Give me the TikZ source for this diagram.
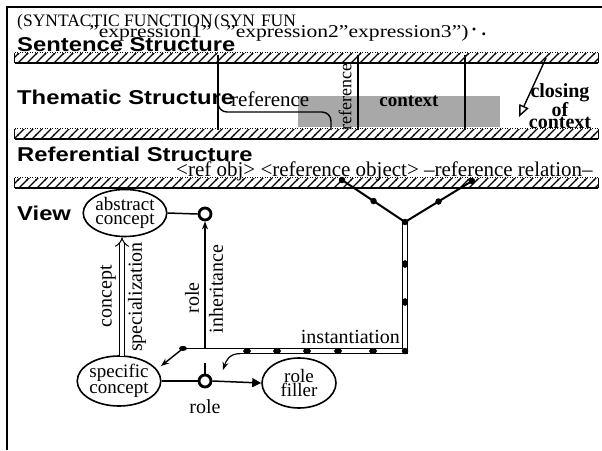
\documentclass[tikz,border=0pt]{standalone}
\usepackage{fontspec}
\usepackage{graphicx}
\setmainfont{Liberation Serif}
\newfontfamily\hsans{Liberation Sans}
\usetikzlibrary{arrows.meta,shapes.geometric,patterns,calc}
\pgfdeclarepatternformonly{hband}{\pgfqpoint{-1pt}{-1pt}}{\pgfqpoint{10pt}{10pt}}{\pgfqpoint{9pt}{9pt}}{%
  \pgfsetlinewidth{1.4pt}%
  \pgfpathmoveto{\pgfqpoint{-0.5pt}{-0.5pt}}%
  \pgfpathlineto{\pgfqpoint{9.5pt}{9.5pt}}%
  \pgfusepath{stroke}%
}
\newcommand{\widetxt}[1]{\scalebox{1.19}[1]{#1}}
\newcommand{\exptxt}[1]{\scalebox{1.2}[1]{#1}}
\begin{document}
\begin{tikzpicture}[x=1pt,y=-1pt,
  lbl/.style={font=\hsans\bfseries\fontsize{20}{22}\selectfont, anchor=base west, inner sep=0pt},
  ser/.style={font=\fontsize{20}{22}\selectfont, inner sep=0pt},
  top/.style={font=\fontsize{17.5}{20}\selectfont, inner sep=0pt},
  band/.style={pattern=hband, minimum width=583pt, minimum height=10pt, inner sep=0pt, draw=none},
  vline/.style={line width=1.4pt},
  blob/.style={ellipse, draw, line width=1.6pt, inner sep=0pt, align=center, fill=white, font=\fontsize{19}{14}\selectfont},
  ring/.style={circle, draw, line width=2.8pt, minimum size=12pt, inner sep=0pt, fill=white},
  bead/.style={ellipse, fill, minimum width=8pt, minimum height=5pt, inner sep=0pt},
  vbead/.style={ellipse, fill, minimum width=5pt, minimum height=8pt, inner sep=0pt},
  dbead/.style={circle, fill, minimum size=6.5pt, inner sep=0pt},
  rot/.style={ser, rotate=90},
]
\useasboundingbox (0,0) rectangle (602,450);
% frame
\draw[line width=1.5pt] (7,450) -- (7,7) -- (602,7);

% top row
\node[top, anchor=base west] (synA) at (17,26) {(SYNTACTIC FUNCTION};
\node[top, anchor=base west, font=\fontsize{18}{20}\selectfont] (ex1) at (89,37) {\exptxt{"expression1"}};
\node[top, anchor=base west] (synB) at (214,26) {(SYN\hspace{6pt}FUN};
\node[top, anchor=base west, font=\fontsize{18}{20}\selectfont] (ex23) at (226,37) {\exptxt{"expression2"expression3")}};
\node[top, anchor=base west, font=\bfseries\fontsize{18}{20}\selectfont] (dots) at (471,35) {· .};

% Sentence structure
\node[lbl] (ss) at (17,51) {\widetxt{Sentence Structure}};
\node[band] (b1) at (306.5,58) {};
\draw[dash pattern=on 1pt off 1.5pt, line width=1.2pt] (b1.north west) -- (b1.north east);
\draw[line width=1.6pt] (b1.south west) -- (b1.south east);
\draw[line width=1.2pt] (b1.north west) -- (b1.south west) (b1.north east) -- (b1.south east);

% Thematic structure
\node[draw=none, fill=black!34, minimum width=202pt, minimum height=31pt, inner sep=0pt] (shade) at (399,111) {};
\node[lbl] (ts) at (17,104) {\widetxt{Thematic Structure}};
\node[ser, anchor=base west, font=\fontsize{21}{22}\selectfont] (refh) at (231,106) {reference};
\node[ser, anchor=base, font=\bfseries\fontsize{19}{22}\selectfont] (ctx) at (409,106) {context};
\node[rot, font=\fontsize{18}{22}\selectfont] (refv) at (345,97) {reference};
\node[ser, align=center, font=\bfseries\fontsize{20}{11.5}\selectfont] (clo) at (560,106) {closing\\of\\context};
\coordinate (t1a) at (218,55);  \coordinate (t1b) at (218,130);
\coordinate (t2a) at (358,55);  \coordinate (t2b) at (358,130);
\coordinate (t3a) at (465,55);  \coordinate (t3b) at (465,130);
\coordinate (brs) at (218,95); \coordinate (brc) at (331,112); \coordinate (bre) at (331,130);
\draw[vline] (t1a) -- (t1b);
\draw[vline] (t2a) -- (t2b);
\draw[vline] (t3a) -- (t3b);
\draw[vline, rounded corners=9pt] (brs) |- (brc) -- (bre);
\coordinate (cs) at (546,58); \coordinate (ce) at (519,117);
\draw[line width=1.4pt, -{Triangle[open, length=12pt, width=10pt, line width=1.4pt]}] (cs) -- (ce);

% band 2
\node[band] (b2) at (306.5,134) {};
\draw[dash pattern=on 1pt off 1.5pt, line width=1.2pt] (b2.north west) -- (b2.north east);
\draw[line width=1.6pt] (b2.south west) -- (b2.south east);
\draw[line width=1.2pt] (b2.north west) -- (b2.south west) (b2.north east) -- (b2.south east);

% Referential structure
\node[lbl] (rs) at (17,161) {\widetxt{Referential Structure}};
\node[ser, anchor=base west, font=\fontsize{21}{22}\selectfont] (rr) at (176,176) {<ref obj> <reference object> --reference relation--};

% band 3
\node[band] (b3) at (306.5,183) {};
\draw[dash pattern=on 1pt off 1.5pt, line width=1.2pt] (b3.north west) -- (b3.north east);
\draw[line width=1.6pt] (b3.south west) -- (b3.south east);
\draw[line width=1.2pt] (b3.north west) -- (b3.south west) (b3.north east) -- (b3.south east);

% View
\node[lbl] (vw) at (17,220) {\widetxt{View}};
\node[blob, minimum width=74pt, minimum height=47pt] (abs) at (125,213) {abstract\\concept};
\node[blob, minimum width=74pt, minimum height=50pt] (spec) at (119,381) {specific\\concept};
\node[blob, minimum width=74pt, minimum height=50pt] (fill) at (299,383) {role\\filler};
\node[ring] (c1) at (205,214) {};
\node[ring] (c2) at (205,381) {};
\node[ser] (rolelbl) at (205,407) {role};

\draw[line width=1.5pt] (abs.east) -- (c1.west);
\draw[line width=1.5pt] (spec.east) -- (c2.west);
\draw[line width=1.5pt, -{Triangle[length=9pt, width=9pt]}] (c2.east) -- (fill.west);

% concept specialization
\coordinate (csA) at ($(spec.north)+(3,1)$);
\coordinate (csB) at ($(abs.south)+(-3,0)$);
\draw[double, double distance=4pt, line width=1pt, -{Implies}] (csA) -- (csB);
\node[rot] (cpt) at (108,296) {concept};
\node[rot] (spz) at (137,297) {specialization};

% role inheritance
\coordinate (ri) at (205,348.4);
\draw[line width=1.3pt, -{Stealth[length=8pt, width=6pt]}] (ri) -- (c1.south);
\node[rot] (rl) at (192,298) {role};
\node[rot] (inh) at (216,289) {inheritance};
\coordinate (rt) at (205,363);
\draw[line width=1.4pt] (rt) -- (c2.north);

% instantiation
\coordinate (yl) at (342,180);
\coordinate (yr) at (472,181);
\coordinate (yj) at (405,222);
\coordinate (yc) at (405,351);
\coordinate (yh) at (240,351);
\coordinate (up1) at (240,348.4);
\coordinate (up2) at (183,348.4);
\coordinate (lo1) at (240,353.6);
\coordinate (lo2) at (223,370);
\coordinate (ua) at (161,366);
\draw[line width=2pt] (yl) -- (yj) -- (yr);
\draw[double, double distance=4pt, line width=1.2pt] (yj) -- (yc) -- (yh);
\draw[line width=1.2pt] (up1) -- (up2);
\draw[line width=1.4pt, -{Stealth[length=8pt, width=6pt]}] (up2) -- (ua);
\draw[line width=1.2pt, -{Stealth[length=8pt, width=6pt]}] (lo1) .. controls (229,353.6) and (226,361) .. (lo2);
\node[dbead] (bl) at (yl) {};
\node[dbead] (br) at (yr) {};
\node[dbead] (bj) at (yj) {};
\node[dbead] (bc) at (yc) {};
\node[dbead] (bm1) at ($(yl)!.5!(yj)$) {};
\node[dbead] (bm2) at ($(yr)!.5!(yj)$) {};
\node[vbead] (bv1) at (405,264) {};
\node[vbead] (bv2) at (405,302) {};
\node[bead] (bh1) at (373,351) {};
\node[bead] (bh2) at (338,351) {};
\node[bead] (bh3) at (307,351) {};
\node[bead] (bh4) at (277,351) {};
\node[bead] (bh5) at (247,351) {};
\node[bead] (bh6) at (183,348.4) {};
\node[ser, anchor=base east] (inst) at (400,343) {instantiation};
\end{tikzpicture}
\end{document}
